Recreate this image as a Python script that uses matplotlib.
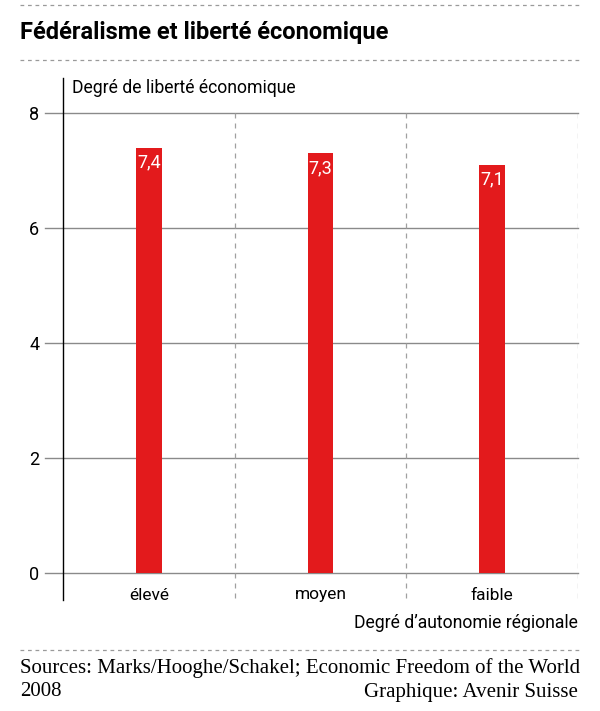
import matplotlib
matplotlib.use("Agg")
import matplotlib.pyplot as plt
from matplotlib.lines import Line2D

# Data
categories = ["élevé", "moyen", "faible"]
values = [7.4, 7.3, 7.1]
y_ticks = [0, 2, 4, 6, 8]

title = "Fédéralisme et liberté économique"
y_label = "Degré de liberté économique"
x_label = "Degré d\u2019autonomie régionale"
source_line1 = "Sources: Marks/Hooghe/Schakel; Economic Freedom of the World"
source_line2_left = "2008"
source_line2_right = "Graphique: Avenir Suisse"

SANS = ["Roboto", "DejaVu Sans"]
SERIF = ["Liberation Serif", "DejaVu Serif"]
RED = "#e31a1c"
GRID = "#8a8a8a"

W, H = 600, 711
fig = plt.figure(figsize=(W / 100, H / 100), dpi=100)


def fx(px):
    return px / W


def fy(py):
    return 1 - py / H


# Axes placed in pixel terms: 0 at y=573, 8 at y=113
unit = (573 - 113) / 8
y_top_px, y_bot_px = 78, 600
ymax = 8 + (113 - y_top_px) / unit
ymin = -(y_bot_px - 573) / unit
ax = fig.add_axes([fx(63), fy(y_bot_px), fx(578) - fx(63), (y_bot_px - y_top_px) / H])
ax.set_xlim(-0.5, len(categories) - 0.5)
ax.set_ylim(ymin, ymax)

for s in ["top", "right", "bottom"]:
    ax.spines[s].set_visible(False)
ax.spines["left"].set_color("black")
ax.spines["left"].set_linewidth(1.0)

# horizontal grid lines extended left past the spine
for t in y_ticks:
    ax.plot([-0.5 - 18 / ((578 - 63) / 3), len(categories) - 0.5], [t, t],
            color=GRID, lw=1.0, clip_on=False, zorder=1)
ax.set_yticks(y_ticks)
ax.set_yticklabels([str(t) for t in y_ticks], family=SANS, fontsize=13)
ax.tick_params(axis="y", length=0, pad=17)

# vertical dashed separators
for i in range(1, len(categories) + 1):
    ax.plot([i - 0.5, i - 0.5], [8, ymin], color="#a0a0a0", lw=0.9,
            ls=(0, (4, 4)), zorder=1)

x = list(range(len(categories)))
ax.bar(x, values, width=0.15, color=RED, zorder=3)
for xi, v in zip(x, values):
    ax.text(xi, v - 0.1, f"{v:.1f}".replace(".", ","), ha="center", va="top",
            color="white", fontsize=13, family=SANS, zorder=4)

# category labels sit just above the bottom of the axis line
ax.set_xticks([])
label_y = -(595 - 573) / unit
for xi, c in zip(x, categories):
    ax.text(xi, label_y, c, ha="center", va="center", fontsize=12.5, family=SANS)

# figure texts
fig.text(fx(20), fy(33), title, family=SANS, fontsize=17, fontweight="bold",
         va="center", ha="left")
fig.text(fx(72), fy(88), y_label, family=SANS, fontsize=12.7, va="center", ha="left")
fig.text(fx(578), fy(623), x_label, family=SANS, fontsize=12.7, va="center", ha="right")
fig.text(fx(20), fy(668), source_line1, family=SERIF, fontsize=15, va="center", ha="left")
fig.text(fx(20), fy(692), source_line2_left, family=SERIF, fontsize=15, va="center", ha="left")
fig.text(fx(578), fy(692), source_line2_right, family=SERIF, fontsize=15, va="center", ha="right")

# dashed rules
for ypx in (5, 60, 650):
    fig.add_artist(Line2D([fx(20), fx(580)], [fy(ypx), fy(ypx)], color="#9a9a9a",
                          lw=0.9, ls=(0, (3, 3)), transform=fig.transFigure))

fig.savefig("out.png", dpi=100, facecolor="white")
